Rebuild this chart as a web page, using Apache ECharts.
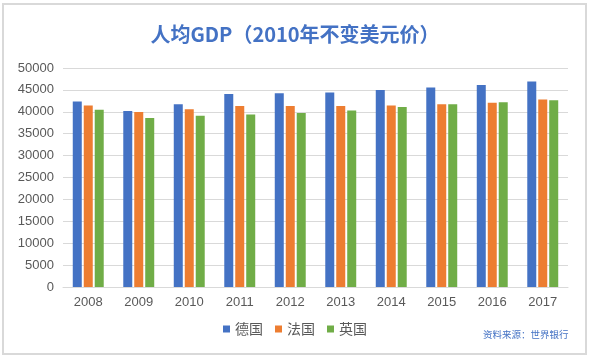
<!DOCTYPE html>
<html>
<head>
<meta charset="utf-8">
<script src="https://cdn.jsdelivr.net/npm/echarts@6/dist/echarts.min.js"></script>
<style>html,body{margin:0;padding:0;background:#fff;}#c{width:590px;height:358px;}</style>
</head>
<body>
<div id="c"></div>
<script>
var categories = ['2008','2009','2010','2011','2012','2013','2014','2015','2016','2017'];
var germany = [42360, 40160, 41750, 44090, 44250, 44400, 45000, 45540, 46140, 46900];
var france  = [41450, 39950, 40610, 41300, 41300, 41300, 41450, 41750, 42050, 42800];
var uk      = [40450, 38570, 39090, 39400, 39700, 40300, 41070, 41750, 42200, 42660];
var seriesNames = ['德国','法国','英国'];
var colors = ['#4472C4','#ED7D31','#70AD47'];

var chart = echarts.init(document.getElementById('c'));
var font = '"Noto Sans CJK SC", "Liberation Sans", sans-serif';
function bar(name, data, color){
  return {name:name, type:'bar', data:data, barWidth:9, barGap:'22%',
    itemStyle:{color:color}};
}
chart.setOption({
  animation:false,
  textStyle:{fontFamily:font},
  title:{text:'人均GDP（2010年不变美元价）', left:'center', top:19,
    textStyle:{color:'#4472C4', fontSize:20, fontWeight:'bold', fontFamily:font}},
  graphic:[
    {type:'rect', shape:{x:3,y:4,width:583,height:350}, style:{fill:'none', stroke:'#d9d9d9', lineWidth:2}, z:-1},
    {type:'text', left:483, top:330, style:{text:'资料来源：世界银行', fill:'#4472C4', font:'9.5px "Noto Sans CJK SC", sans-serif'}}
  ],
  legend:{data:seriesNames, bottom:17, left:'center', itemWidth:7, itemHeight:7, itemGap:12,
    icon:'rect', textStyle:{color:'#595959', fontSize:14, fontFamily:font}},
  grid:{left:63, right:22, top:68, bottom:71},
  xAxis:{type:'category', data:categories,
    axisLine:{lineStyle:{color:'#d9d9d9'}}, axisTick:{show:false},
    axisLabel:{color:'#595959', fontSize:13, margin:9, fontFamily:'"Liberation Sans", sans-serif'}},
  yAxis:{type:'value', min:0, max:50000, interval:5000,
    axisLine:{show:false}, axisTick:{show:false},
    splitLine:{lineStyle:{color:'#d9d9d9'}},
    axisLabel:{color:'#595959', fontSize:13, margin:9, fontFamily:'"Liberation Sans", sans-serif',
      formatter:function(v){return String(v);}}},
  series:[bar(seriesNames[0], germany, colors[0]), bar(seriesNames[1], france, colors[1]), bar(seriesNames[2], uk, colors[2])]
});
</script>
</body>
</html>
